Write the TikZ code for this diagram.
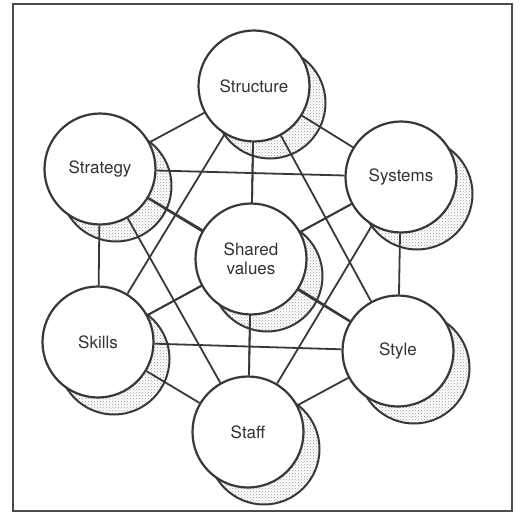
\documentclass[tikz,border=0pt]{standalone}
\usepackage{fontspec}
\setmainfont{TeX Gyre Heros}
\usetikzlibrary{patterns}
\pgfdeclarelayer{back}
\pgfsetlayers{back,main}

\begin{document}
\begin{tikzpicture}[x=1pt, y=-1pt,
    factor/.style={shape=circle, draw=black!78, fill=white, line width=2.2pt,
      minimum size=111pt, inner sep=0pt, align=center, text=black!80,
      font=\fontsize{17}{19}\selectfont},
    backdisc/.style={shape=circle, draw=black!78, line width=2pt,
      minimum size=111pt, inner sep=0pt,
      pattern=crosshatch dots, pattern color=black!40},
    link/.style={draw=black!78, line width=1.8pt}]
          \useasboundingbox (0,0) rectangle (520,514);
          \draw[black!70, line width=2.6pt] (13,4) rectangle (512,511);

          % nodes
          \node[factor] at (254,86)
          (strc) {Structure};
          \node[factor] at (100,169)
          (strat) {Strategy};
          \node[factor] at (401,177)
          (sys) {Systems};
          \node[factor] at (251,259)
          (shv) {Shared\\values};
          \node[factor] at (98,342)
          (skl) {Skills};
          \node[factor] at (398,351)
          (sty) {Style};
          \node[factor] at (248,432)
          (stf) {Staff};

          \begin{pgfonlayer}{back}
          % shadows
          \node[backdisc] at ([shift={(16,17)}]strc.center) (strc-sh) {};
          \node[backdisc] at ([shift={(16,17)}]strat.center) (strat-sh) {};
          \node[backdisc] at ([shift={(16,17)}]sys.center) (sys-sh) {};
          \node[backdisc] at ([shift={(16,17)}]shv.center) (shv-sh) {};
          \node[backdisc] at ([shift={(16,17)}]skl.center) (skl-sh) {};
          \node[backdisc] at ([shift={(16,17)}]sty.center) (sty-sh) {};
          \node[backdisc] at ([shift={(16,17)}]stf.center) (stf-sh) {};

          % links
          \draw[link]
          (strc) edge (strat)
          (strc) edge (sys)
          (strc) edge (shv)
          (strc) edge (skl)
          (strc) edge (sty)
          (strc) edge (stf)
          (strat) edge (sys)
          (strat) edge (shv)
          (strat) edge (skl)
          (strat) edge (sty)
          (strat) edge (stf)
          (sys) edge (shv)
          (sys) edge (skl)
          (sys) edge (sty)
          (sys) edge (stf)
          (shv) edge (skl)
          (shv) edge (sty)
          (shv) edge (stf)
          (skl) edge (sty)
          (skl) edge (stf)
          (sty) edge (stf)
          ;
          \end{pgfonlayer}
        \end{tikzpicture}
\end{document}
